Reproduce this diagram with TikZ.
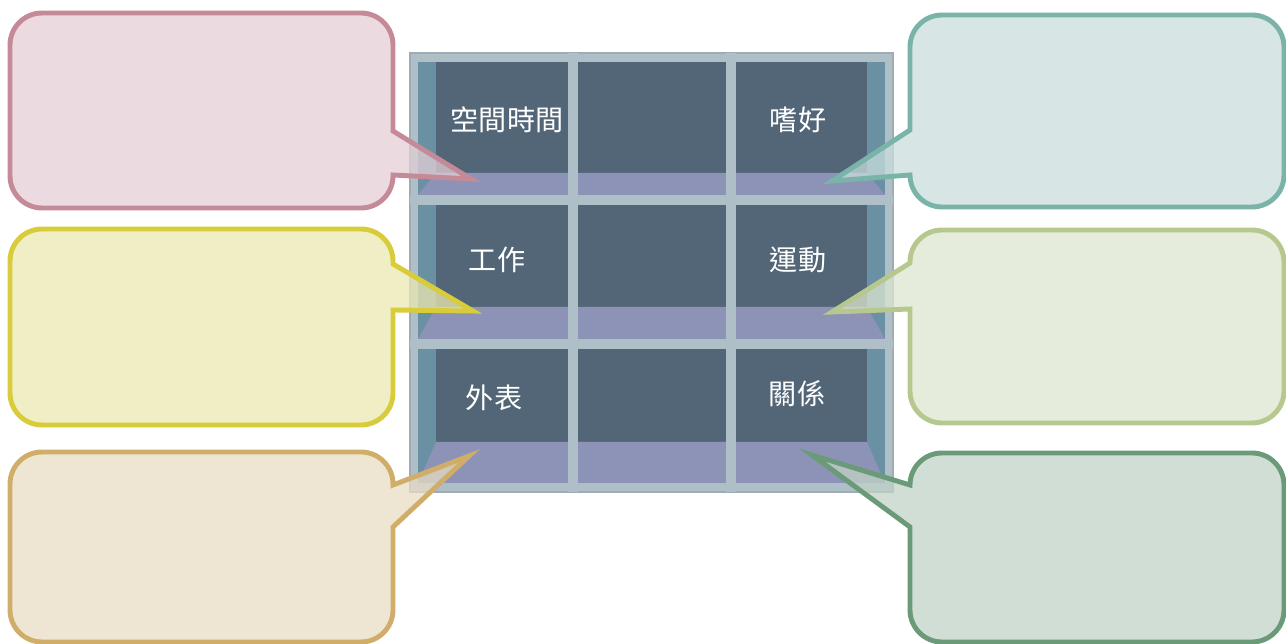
\documentclass[tikz,border=0pt]{standalone}
\usepackage{fontspec}
\usepackage{tikz}
\newfontfamily\cjk{Noto Sans CJK TC}
\definecolor{shelfFrame}{RGB}{174,191,200}
\definecolor{shelfEdge}{RGB}{160,172,180}
\definecolor{shelfWall}{RGB}{106,144,164}
\definecolor{shelfBack}{RGB}{82,102,120}
\definecolor{shelfFloor}{RGB}{140,147,182}
\definecolor{tipPink}{RGB}{196,138,152}
\definecolor{tipPinkFill}{RGB}{228,207,214}
\definecolor{tipYellow}{RGB}{216,204,58}
\definecolor{tipYellowFill}{RGB}{235,232,176}
\definecolor{tipTan}{RGB}{208,174,106}
\definecolor{tipTanFill}{RGB}{232,220,196}
\definecolor{tipTeal}{RGB}{122,179,168}
\definecolor{tipTealFill}{RGB}{202,222,220}
\definecolor{tipLime}{RGB}{182,200,142}
\definecolor{tipLimeFill}{RGB}{220,230,207}
\definecolor{tipGreen}{RGB}{106,154,120}
\definecolor{tipGreenFill}{RGB}{194,211,199}

\begin{document}
\begin{tikzpicture}[x=0.02cm, y=-0.02cm]%
  \tikzset{bubble/.style={line width=2.8pt, fill opacity=0.75, line join=miter}}
  \tikzset{shelf label/.style={text=white, font=\cjk\fontsize{16}{18}\selectfont, inner sep=0pt}}
  \tikzset{corner/.style={radius=32}}
  \useasboundingbox (0,0) rectangle (1286,644);

  % the shelf
  \fill[shelfFrame] (410,53) rectangle (893,492);
  \draw[shelfEdge, line width=0.6pt] (410,53) rectangle (893,492);
  \foreach \top/\floor/\bot in {62/173/195, 205/307/339, 349/442/483} {
    \fill[shelfWall] (418,\top) rectangle (885,\bot);
    \fill[shelfBack] (436,\top) rectangle (867,\floor);
    \fill[shelfFloor] (436,\floor) -- (867,\floor) -- (885,\bot) -- (418,\bot) -- cycle;
  }
  \fill[shelfFrame] (568,53) rectangle (578,492);
  \fill[shelfFrame] (726,53) rectangle (736,492);
  \fill[shelfFrame] (410,195) rectangle (893,205);
  \fill[shelfFrame] (410,339) rectangle (893,349);

  \node[shelf label] at (507,120) (space) {空間時間};
  \node[shelf label] at (798,120) (hobby) {嗜好};
  \node[shelf label] at (497,260) (work)  {工作};
  \node[shelf label] at (798,260) (sport) {運動};
  \node[shelf label] at (494,398) (look)  {外表};
  \node[shelf label] at (797,394) (bond)  {關係};

  % callouts on the left
  \filldraw[bubble, draw=tipPink, fill=tipPinkFill]
    (42,13) -- (361,13) arc[corner, start angle=-90, end angle=0] -- (393,131)
    -- (471,179) -- (393,175) -- (393,176) arc[corner, start angle=0, end angle=90]
    -- (42,208) arc[corner, start angle=90, end angle=180]
    -- (10,45) arc[corner, start angle=180, end angle=270] -- cycle;
  \filldraw[bubble, draw=tipYellow, fill=tipYellowFill]
    (42,229) -- (361,229) arc[corner, start angle=-90, end angle=0] -- (393,264)
    -- (473,311) -- (393,310) -- (393,393) arc[corner, start angle=0, end angle=90]
    -- (42,425) arc[corner, start angle=90, end angle=180]
    -- (10,261) arc[corner, start angle=180, end angle=270] -- cycle;
  \filldraw[bubble, draw=tipTan, fill=tipTanFill]
    (42,452) -- (361,452) arc[corner, start angle=-90, end angle=0] -- (393,485)
    -- (469,456) -- (393,527) -- (393,610) arc[corner, start angle=0, end angle=90]
    -- (42,642) arc[corner, start angle=90, end angle=180]
    -- (10,484) arc[corner, start angle=180, end angle=270] -- cycle;

  % callouts on the right
  \filldraw[bubble, draw=tipTeal, fill=tipTealFill]
    (942,15) -- (1252,15) arc[corner, start angle=-90, end angle=0]
    -- (1284,175) arc[corner, start angle=0, end angle=90]
    -- (942,207) arc[corner, start angle=90, end angle=180]
    -- (832,181) -- (910,130) -- (910,47) arc[corner, start angle=180, end angle=270] -- cycle;
  \filldraw[bubble, draw=tipLime, fill=tipLimeFill]
    (942,230) -- (1252,230) arc[corner, start angle=-90, end angle=0]
    -- (1284,391) arc[corner, start angle=0, end angle=90]
    -- (942,423) arc[corner, start angle=90, end angle=180]
    -- (910,309) -- (832,312) -- (910,263) -- (910,262) arc[corner, start angle=180, end angle=270] -- cycle;
  \filldraw[bubble, draw=tipGreen, fill=tipGreenFill]
    (942,453) -- (1252,453) arc[corner, start angle=-90, end angle=0]
    -- (1284,610) arc[corner, start angle=0, end angle=90]
    -- (942,642) arc[corner, start angle=90, end angle=180]
    -- (910,527) -- (812,455) -- (910,485) arc[corner, start angle=180, end angle=270] -- cycle;
\end{tikzpicture}
\end{document}
